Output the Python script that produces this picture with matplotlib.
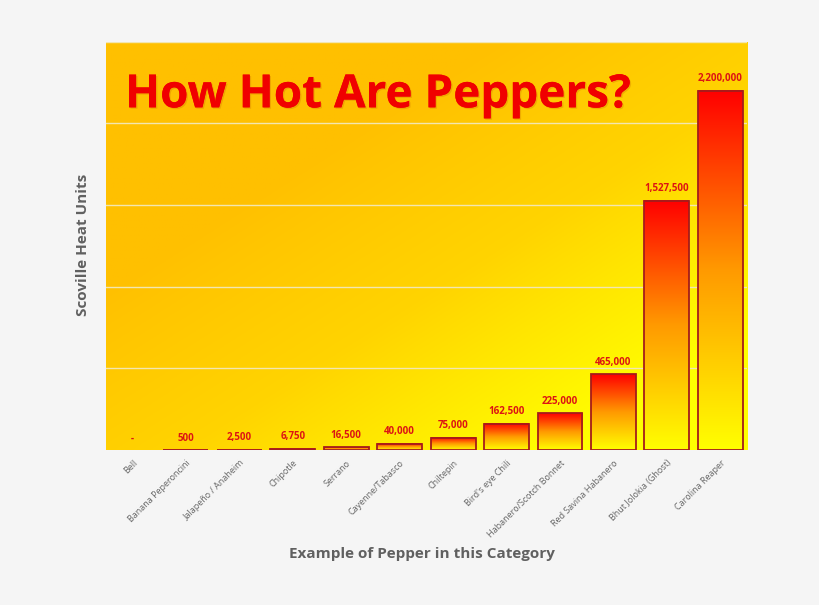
import matplotlib
matplotlib.use("Agg")
import matplotlib.pyplot as plt
import matplotlib.patheffects as pe
import numpy as np
from matplotlib.colors import LinearSegmentedColormap

peppers = ["Bell", "Banana Peperoncini", "Jalapeño / Anaheim", "Chipotle", "Serrano",
           "Cayenne/Tabasco", "Chiltepin", "Bird's eye Chili", "Habanero/Scotch Bonnet",
           "Red Savina Habanero", "Bhut Jolokia (Ghost)", "Carolina Reaper"]
shu = [0, 500, 2500, 6750, 16500, 40000, 75000, 162500, 225000, 465000, 1527500, 2200000]
shu_labels = ["-", "500", "2,500", "6,750", "16,500", "40,000", "75,000", "162,500",
              "225,000", "465,000", "1,527,500", "2,200,000"]

plt.rcParams["font.family"] = ["Open Sans", "DejaVu Sans"]

fig = plt.figure(figsize=(8.2, 6.05), dpi=100, facecolor="#f5f5f5")
ax = fig.add_axes([0.129, 0.256, 0.782, 0.675])

x = np.arange(len(peppers))
w = 0.84
ymax = 2500000

# background gradient: orange top-left -> yellow bottom-right
gx, gy = np.meshgrid(np.linspace(0, 1, 300), np.linspace(1, 0, 300))
t = np.clip((gx * 0.9 + (1 - gy) * 0.9) - 0.55, 0, 1) ** 0.9
bg = LinearSegmentedColormap.from_list("bg", ["#ffc000", "#ffd400", "#ffff00"])
ax.imshow(t, cmap=bg, extent=[0, 1, 0, 1], transform=ax.transAxes,
          aspect="auto", zorder=0, origin="upper")

for yv in np.arange(500000, ymax + 1, 500000):
    ax.axhline(yv, color="#f2e6b0", lw=1.0, zorder=1)

bar_cmap = LinearSegmentedColormap.from_list("bar", ["#ffff00", "#ff9a00", "#ff0000"])
grad = np.linspace(0, 1, 256).reshape(-1, 1)
for xi, v, lab in zip(x, shu, shu_labels):
    if v > 0:
        ax.imshow(grad, cmap=bar_cmap, origin="lower", aspect="auto",
                  extent=[xi - w / 2, xi + w / 2, 0, v], zorder=2)
        ax.bar(xi, v, width=w, facecolor="none", edgecolor="#a51c1c", lw=1.3, zorder=3)
    ax.text(xi, v + 40000, lab, ha="center", va="bottom", color="#dc1414",
            fontsize=7, fontweight="bold", zorder=4)

ax.set_xlim(-0.5, len(peppers) - 0.5)
ax.set_ylim(0, ymax)
ax.set_xticks(x)
ax.set_xticklabels(peppers, rotation=45, ha="right", rotation_mode="anchor",
                   fontsize=6.5, color="#666666")
ax.tick_params(axis="x", length=0, pad=6)
ax.set_yticks([])
for s in ax.spines.values():
    s.set_visible(False)

ax.text(0.03, 0.87, "How Hot Are Peppers?", transform=ax.transAxes, color="#f00000",
        fontsize=33, fontweight="bold", va="center", ha="left", zorder=5,
        path_effects=[pe.withSimplePatchShadow(offset=(1, -1), shadow_rgbFace="#b04000", alpha=0.2),
                      pe.Normal()])

fig.text(0.101, 0.595, "Scoville Heat Units", rotation=90, ha="center", va="center",
         fontsize=11, fontweight="bold", color="#606060")
fig.text(0.515, 0.085, "Example of Pepper in this Category", ha="center", va="center",
         fontsize=11, fontweight="bold", color="#606060")

fig.savefig("out.png", dpi=100, facecolor=fig.get_facecolor())
